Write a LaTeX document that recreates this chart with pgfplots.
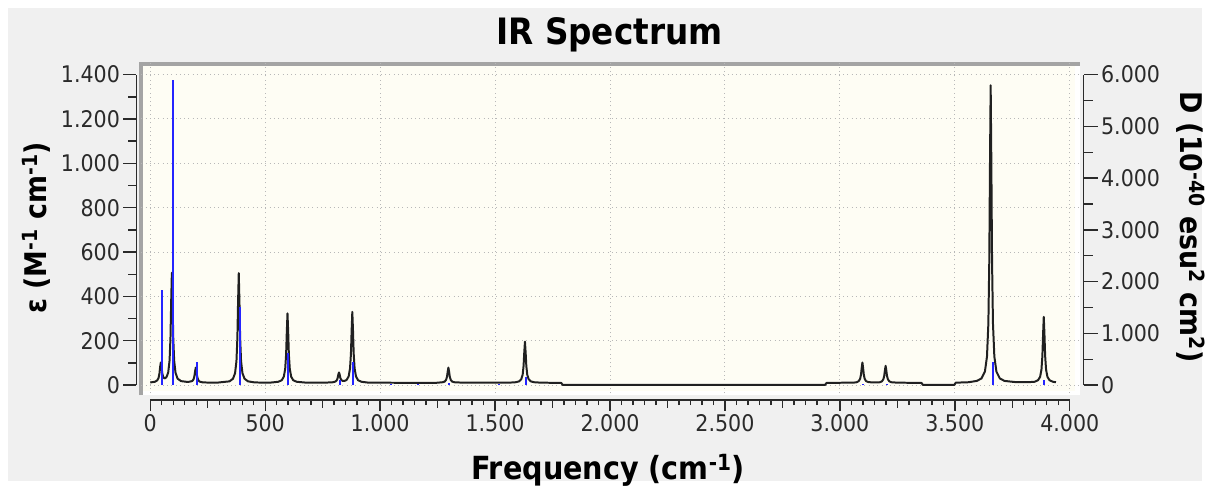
\documentclass[border=0pt]{standalone}
\usepackage{fontspec}
\setmainfont{DejaVu Sans Condensed}
\usepackage{pgfplots}
\pgfplotsset{compat=1.18}

\definecolor{panel}{HTML}{F0F0F0}
\definecolor{plotbg}{HTML}{FEFDF4}
\definecolor{framegray}{HTML}{A4A4A4}
\definecolor{gridgray}{HTML}{B8B8B8}
\definecolor{stickblue}{HTML}{2424FF}
\definecolor{curve}{HTML}{202020}
\definecolor{axisdark}{HTML}{2A2A2A}

\pgfplotsset{
  deco/.style={
    scale only axis, clip=false,
    tick align=outside,
    axis line style={axisdark, line width=1.4pt},
    every tick/.style={axisdark, line width=1.4pt},
    scaled x ticks=false, scaled y ticks=false,
    tick label style={font=\fontsize{23}{26}\selectfont, text=axisdark},
    /pgf/number format/.cd, 1000 sep={.}, assume math mode=true,
  },
}

\begin{document}
\begin{tikzpicture}
% panel and plot frame
\fill[white] (0pt,0pt) rectangle (1208pt,-483pt);
\fill[panel] (8pt,-8pt) rectangle (1208pt,-483pt);
\fill[white] (142pt,-63pt) rectangle (1085pt,-397pt);
\fill[plotbg] (142pt,-63pt) rectangle (1080pt,-393pt);
\draw[framegray, line width=3.5pt] (141.5pt,-397pt) -- (141.5pt,-64.5pt) -- (1085pt,-64.5pt);

% epsilon curve with grid
\begin{axis}[
  at={(142pt,-395pt)}, anchor=south west,
  scale only axis, width=943pt, height=332pt,
  xmin=-38.96, xmax=4043.29, ymin=-35.9, ymax=1453.85,
  axis line style={draw=none},
  xtick={0,500,...,4000}, ytick={0,200,...,1400},
  xticklabels={}, yticklabels={},
  major tick length=0pt,
  grid=major,
  major grid style={gridgray, line width=1pt, dash pattern=on 1pt off 3.3pt},
  clip=false,
]
\addplot[curve, line width=2pt, line join=round] coordinates {
(0,12)(20,15)(30,21)(36,32)(40,52)(43,82)(46,102)(49,83)(52,55)(56,37)(62,30)(70,35)(78,56)(84,111)(88,215)(91,376)(94,507)(97,376)(100,214)(104,110)(110,55)(119,29)(134,18)(164,14)(182,18)(188,25)(192,40)(195,62)(198,79)(201,61)(204,39)(208,24)(214,16)(230,12)(290,11)(345,17)(360,29)(369,54)(375,109)(379,213)(382,374)(385,505)(388,374)(391,213)(395,109)(401,54)(410,29)(425,17)(455,12)(520,11)(557,15)(572,22)(581,38)(587,73)(591,138)(594,240)(597,323)(600,240)(603,138)(607,73)(613,38)(622,22)(637,15)(680,11)(760,11)(795,13)(805,16)(811,21)(815,31)(818,47)(821,57)(824,47)(827,32)(831,23)(837,19)(845,19)(854,23)(863,39)(869,75)(873,141)(876,245)(879,330)(882,245)(885,141)(889,75)(895,39)(904,22)(919,15)(950,11)(1240,10)(1272,13)(1281,16)(1287,24)(1291,38)(1294,61)(1297,79)(1300,61)(1303,38)(1307,24)(1313,16)(1322,13)(1360,11)(1560,11)(1590,13)(1605,17)(1614,27)(1620,47)(1624,86)(1627,147)(1630,196)(1633,147)(1636,86)(1640,47)(1646,27)(1655,17)(1670,13)(1700,11)(1788,10)(1794,1)(2936,1)(2942,10)(3040,11)(3058,11)(3073,13)(3082,18)(3088,28)(3092,48)(3095,78)(3098,102)(3101,78)(3104,48)(3108,28)(3114,18)(3123,14)(3140,12)(3160,12)(3174,13)(3183,17)(3189,26)(3193,42)(3196,67)(3199,87)(3202,67)(3205,42)(3209,26)(3215,17)(3224,13)(3250,11)(3355,10)(3361,1)(3498,1)(3504,11)(3560,13)(3596,19)(3616,30)(3631,61)(3640,129)(3646,278)(3650,560)(3653,996)(3656,1352)(3659,996)(3662,560)(3666,278)(3672,129)(3681,61)(3696,30)(3716,19)(3760,14)(3815,13)(3847,15)(3862,22)(3871,37)(3877,70)(3881,132)(3884,229)(3887,308)(3890,229)(3893,132)(3897,70)(3903,37)(3912,22)(3927,15)(3940,13)
};
\end{axis}

% dipole strength sticks (right scale)
\begin{axis}[
  at={(142pt,-395pt)}, anchor=south west,
  scale only axis, width=943pt, height=332pt,
  xmin=-38.96, xmax=4043.29, ymin=-153.85, ymax=6230.8,
  hide axis, clip=false,
]
\addplot[ycomb, draw=stickblue, line width=2pt, mark=none] coordinates {
(50,1843)(98,5893)(202,437)(389,1517)(601,613)(825,94)(883,437)(1046,30)(1165,30)(1301,50)(1515,30)(1634,154)(3102,25)(3203,20)(3665,437)(3890,103)
};
\end{axis}

% left scale
\begin{axis}[deco,
  at={(137pt,-387pt)}, anchor=south west,
  width=10pt, height=312pt,
  xmin=0, xmax=1, ymin=0, ymax=1400,
  axis y line*=left, hide x axis,
  ytick={0,200,...,1400}, minor y tick num=1,
  major tick length=13pt, minor tick length=8pt,
]
\end{axis}

% right scale
\begin{axis}[deco,
  at={(1089pt,-387pt)}, anchor=south east,
  width=10pt, height=312pt,
  xmin=0, xmax=1, ymin=0, ymax=6000,
  axis y line*=right, hide x axis,
  ytick={0,1000,...,6000}, minor y tick num=1,
  major tick length=14pt, minor tick length=9pt,
]
\end{axis}

% bottom scale
\begin{axis}[deco,
  at={(151pt,-402pt)}, anchor=south west,
  width=924pt, height=10pt,
  xmin=0, xmax=4000, ymin=0, ymax=1,
  axis x line*=bottom, hide y axis,
  xtick={0,500,...,4000}, minor x tick num=9,
  major tick length=11pt, minor tick length=5pt,
  extra x ticks={250,750,...,3750}, extra x tick labels={},
  extra x tick style={major tick length=8pt},
]
\end{axis}

% titles
\node[anchor=base, font=\bfseries\fontsize{36.5}{38}\selectfont] at (612.5pt,-45pt) {IR Spectrum};
\node[anchor=base, font=\bfseries\fontsize{32}{34}\selectfont] at (611pt,-482pt) {Frequency (cm\textsuperscript{-1})};
\node[anchor=base, rotate=90, font=\bfseries\fontsize{30}{32}\selectfont] at (47pt,-229pt) {ε (M\textsuperscript{-1} cm\textsuperscript{-1})};
\node[anchor=base, rotate=-90, font=\bfseries\fontsize{30}{32}\selectfont] at (1186pt,-228pt) {D (10\textsuperscript{-40} esu\textsuperscript{2} cm\textsuperscript{2})};

\path[use as bounding box] (0pt,0pt) rectangle (1208pt,-483pt);
\end{tikzpicture}
\end{document}
